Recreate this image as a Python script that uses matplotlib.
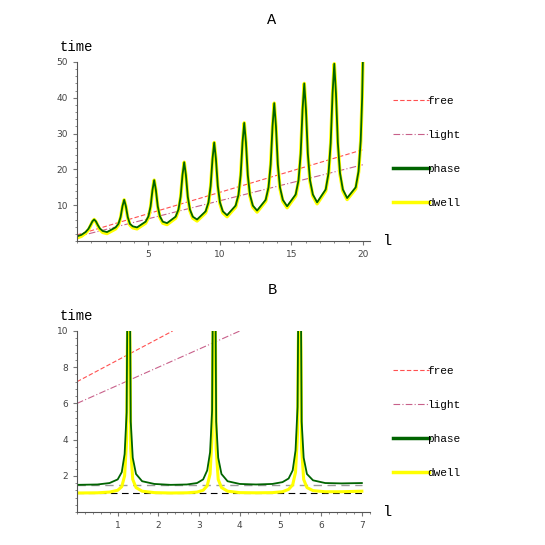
import matplotlib
matplotlib.use("Agg")
import matplotlib.pyplot as plt
from matplotlib.lines import Line2D
from matplotlib.ticker import MultipleLocator

# ---- Panel A data ----
a_x = [0, 0.3, 0.6, 0.8, 0.95, 1.08, 1.2, 1.32, 1.45, 1.6, 1.8, 2.1,
       2.7, 2.9, 3.05, 3.18, 3.3, 3.42, 3.55, 3.7, 3.9, 4.2,
       4.8, 5.0, 5.15, 5.28, 5.4, 5.52, 5.65, 5.8, 6.0, 6.3,
       6.9, 7.1, 7.25, 7.38, 7.5, 7.62, 7.75, 7.9, 8.1, 8.4,
       9.0, 9.2, 9.35, 9.48, 9.6, 9.72, 9.85, 10.0, 10.2, 10.5,
       11.1, 11.3, 11.45, 11.58, 11.7, 11.82, 11.95, 12.1, 12.3, 12.6,
       13.2, 13.4, 13.55, 13.68, 13.8, 13.92, 14.05, 14.2, 14.4, 14.7,
       15.3, 15.5, 15.65, 15.78, 15.9, 16.02, 16.15, 16.3, 16.5, 16.8,
       17.4, 17.6, 17.75, 17.88, 18.0, 18.12, 18.25, 18.4, 18.6, 18.9,
       19.5, 19.7, 19.85, 19.95, 20.0]
a_phase = [1.3, 1.7, 2.5, 3.4, 4.5, 5.5, 6.0, 5.5, 4.5, 3.5, 2.8, 2.5,
           3.8, 4.8, 6.7, 9.7, 11.5, 9.7, 6.7, 4.8, 4.1, 3.8,
           5.4, 6.9, 9.7, 14.2, 17.0, 14.2, 9.7, 6.9, 5.4, 5.0,
           6.8, 8.8, 12.4, 18.4, 22.0, 18.4, 12.4, 8.8, 6.8, 6.0,
           8.3, 10.8, 15.4, 22.9, 27.5, 22.9, 15.4, 10.8, 8.3, 7.2,
           9.9, 12.9, 18.4, 27.5, 33.0, 27.5, 18.4, 12.9, 9.9, 8.5,
           11.5, 15.0, 21.4, 32.0, 38.5, 32.0, 21.4, 15.0, 11.5, 9.7,
           13.0, 17.0, 24.4, 36.6, 44.0, 36.6, 24.4, 17.0, 13.0, 10.8,
           14.4, 19.0, 27.4, 41.1, 49.5, 41.1, 27.4, 19.0, 14.4, 12.0,
           15.0, 19.5, 28.0, 40.0, 50.0]
a_dwell = [0.9, 1.3, 2.2, 3.1, 4.3, 5.4, 6.0, 5.4, 4.3, 3.2, 2.4, 2.1,
           3.4, 4.5, 6.5, 9.6, 11.5, 9.6, 6.5, 4.5, 3.7, 3.4,
           5.0, 6.6, 9.5, 14.1, 17.0, 14.1, 9.5, 6.6, 5.0, 4.6,
           6.4, 8.5, 12.2, 18.3, 22.0, 18.3, 12.2, 8.5, 6.4, 5.6,
           7.9, 10.5, 15.2, 22.8, 27.5, 22.8, 15.2, 10.5, 7.9, 6.8,
           9.5, 12.6, 18.2, 27.4, 33.0, 27.4, 18.2, 12.6, 9.5, 8.1,
           11.1, 14.7, 21.2, 31.9, 38.5, 31.9, 21.2, 14.7, 11.1, 9.3,
           12.6, 16.7, 24.2, 36.5, 44.0, 36.5, 24.2, 16.7, 12.6, 10.4,
           14.0, 18.7, 27.2, 41.0, 49.5, 41.0, 27.2, 18.7, 14.0, 11.6,
           14.6, 19.2, 27.8, 39.9, 50.0]
a_free_x = [0, 20]; a_free_y = [1.7, 25.5]
a_light_x = [0, 20]; a_light_y = [1.2, 21.3]

# ---- Panel B data ----
b_x = [0, 0.5, 0.8, 1.0, 1.1, 1.17, 1.22, 1.235, 1.27, 1.305, 1.32, 1.37, 1.45, 1.6, 1.9, 2.3,
       2.7, 2.95, 3.1, 3.2, 3.27, 3.32, 3.335, 3.37, 3.405, 3.42, 3.47, 3.55, 3.7, 4.0, 4.4,
       4.8, 5.05, 5.2, 5.3, 5.37, 5.42, 5.435, 5.47, 5.505, 5.52, 5.57, 5.65, 5.8, 6.1, 6.5, 7.0]
b_phase = [1.5, 1.52, 1.6, 1.8, 2.2, 3.2, 5.5, 10.5, 14, 10.5, 5.0, 3.0, 2.1, 1.7, 1.55, 1.5,
           1.52, 1.6, 1.8, 2.3, 3.3, 5.6, 10.5, 14, 10.5, 5.0, 3.0, 2.1, 1.7, 1.55, 1.52,
           1.55, 1.65, 1.85, 2.3, 3.4, 5.8, 10.5, 14, 10.5, 5.0, 3.0, 2.1, 1.75, 1.6, 1.58, 1.6]
b_dwell = [1.05, 1.06, 1.1, 1.2, 1.4, 2.0, 4.0, 9.0, 14, 9.0, 3.5, 1.8, 1.35, 1.15, 1.07, 1.05,
           1.06, 1.1, 1.2, 1.45, 2.1, 4.2, 9.0, 14, 9.0, 3.5, 1.8, 1.35, 1.15, 1.07, 1.06,
           1.07, 1.12, 1.25, 1.5, 2.2, 4.4, 9.0, 14, 9.0, 3.5, 1.8, 1.35, 1.18, 1.12, 1.12, 1.15]
b_free_x = [0, 2.35]; b_free_y = [7.2, 10]
b_light_x = [0, 4.0]; b_light_y = [6.0, 10]
b_ref_phase = 1.5
b_ref_dwell = 1.05

labels = ["free", "light", "phase", "dwell"]
FREE = "#ff5050"; LIGHT = "#c8608a"; PHASE = "#006400"; DWELL = "#ffff00"
MONO = "Liberation Mono"

fig = plt.figure(figsize=(5.45, 5.45), dpi=100)
W = 545.0

def style(ax, xlim, ylim, xmaj, ymaj, xmin, ymin):
    ax.set_xlim(*xlim); ax.set_ylim(*ylim)
    for s in ["top", "right"]:
        ax.spines[s].set_visible(False)
    for s in ["left", "bottom"]:
        ax.spines[s].set_color("#555555"); ax.spines[s].set_linewidth(0.8)
    ax.xaxis.set_major_locator(MultipleLocator(xmaj))
    ax.yaxis.set_major_locator(MultipleLocator(ymaj))
    ax.xaxis.set_minor_locator(MultipleLocator(xmin))
    ax.yaxis.set_minor_locator(MultipleLocator(ymin))
    ax.tick_params(which="both", colors="#777777", labelsize=6.5, labelcolor="#444444", direction="out")
    ax.tick_params(which="major", length=3)
    ax.tick_params(which="minor", length=1.5)
    ax.text(-0.06, 1.06, "time", transform=ax.transAxes, fontsize=10, family=MONO)
    ax.text(1.04, -0.02, "l", transform=ax.transAxes, fontsize=11, family=MONO)

axA = fig.add_axes([77/W, 1-241/W, 293/W, 179/W])
axA.plot(a_free_x, a_free_y, color=FREE, ls=(0, (4, 2)), lw=0.8)
axA.plot(a_light_x, a_light_y, color=LIGHT, ls=(0, (6, 2, 1, 2)), lw=0.8)
axA.plot(a_x, a_dwell, color=DWELL, lw=2.5)
axA.plot(a_x, a_phase, color=PHASE, lw=1.3)
style(axA, (0, 20.5), (0, 50), 5, 10, 1, 2)
axA.set_xticks([5, 10, 15, 20]); axA.set_yticks([10, 20, 30, 40, 50])
fig.text(272/W, 1-20/W, "A", ha="center", va="center", fontsize=11, family=MONO)

axB = fig.add_axes([77/W, 1-512/W, 293/W, 181/W])
axB.plot(b_free_x, b_free_y, color=FREE, ls=(0, (4, 2)), lw=0.8)
axB.plot(b_light_x, b_light_y, color=LIGHT, ls=(0, (6, 2, 1, 2)), lw=0.8)
axB.plot([0, 7], [b_ref_phase]*2, color="#999999", ls=(0, (6, 4)), lw=1.0)
axB.plot([0, 7], [b_ref_dwell]*2, color="black", ls=(0, (6, 4)), lw=0.8)
axB.plot(b_x, b_dwell, color=DWELL, lw=2.2)
axB.plot(b_x, b_phase, color=PHASE, lw=1.3)
style(axB, (0, 7.2), (0, 10), 1, 2, 0.2, 0.4)
axB.set_xticks(range(1, 8)); axB.set_yticks([2, 4, 6, 8, 10])
fig.text(272/W, 1-290/W, "B", ha="center", va="center", fontsize=11, family=MONO)

handles = [Line2D([], [], color=FREE, ls=(0, (4, 2)), lw=0.8),
           Line2D([], [], color=LIGHT, ls=(0, (6, 2, 1, 2)), lw=0.8),
           Line2D([], [], color=PHASE, lw=2.5),
           Line2D([], [], color=DWELL, lw=2.5)]
for top in (86, 356):
    fig.legend(handles, labels, loc="upper left", bbox_to_anchor=(383/W, 1-top/W),
               frameon=False, handlelength=3.2, handletextpad=-0.1, labelspacing=2.15,
               prop={"family": MONO, "size": 8})

fig.savefig("out.png", dpi=100, facecolor="white")
